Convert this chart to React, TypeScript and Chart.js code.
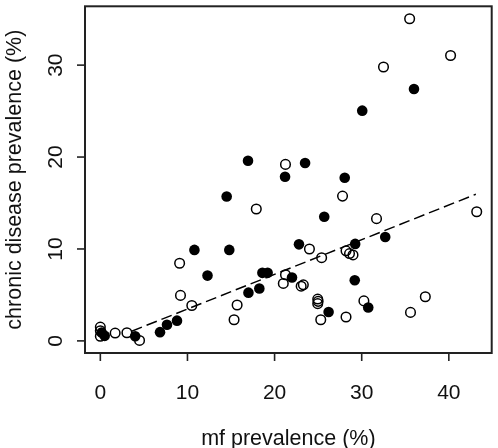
import React, { useEffect, useRef } from "react";
import { Chart, registerables } from "chart.js";

Chart.register(...registerables);

// mf prevalence (%) vs chronic disease prevalence (%)
const openX = [0.0, 0.0, 0.0, 1.7, 3.05, 4.5, 9.1, 9.2, 10.5, 15.7, 15.35, 17.9, 21.25, 21.25, 21.0, 23.05, 23.3, 24.0, 25.4, 28.2, 28.6, 29.0, 24.95, 25.0, 24.95, 25.3, 28.2, 30.25, 27.8, 31.7, 32.5, 35.5, 40.2, 35.6, 37.3, 43.2];
const openY = [1.5, 1.1, 0.5, 0.85, 0.88, 0.05, 8.45, 4.95, 3.85, 3.9, 2.3, 14.35, 19.2, 7.2, 6.25, 5.95, 6.1, 10.0, 9.05, 9.8, 9.5, 9.35, 4.55, 4.3, 4.05, 2.3, 2.6, 4.35, 15.75, 13.3, 29.8, 35.05, 31.05, 3.1, 4.8, 14.05];

const filledX = [0.5, 0.15, 4.0, 6.85, 7.65, 8.8, 10.8, 12.3, 14.5, 14.8, 16.95, 17.0, 18.25, 18.6, 19.2, 21.2, 22.0, 22.8, 23.5, 25.7, 26.2, 28.05, 29.25, 29.2, 30.06, 30.75, 32.7, 36.0];
const filledY = [0.55, 0.9, 0.5, 0.95, 1.75, 2.2, 9.9, 7.1, 15.7, 9.9, 19.6, 5.25, 5.7, 7.4, 7.4, 17.85, 6.9, 10.5, 19.35, 13.5, 3.15, 17.75, 10.55, 6.6, 25.05, 3.64, 11.3, 27.4];

const trendX = [3.6, 43.1];
const trendY = [1.05, 15.95];

const xTicks = [0, 10, 20, 30, 40];
const yTicks = [0, 10, 20, 30];
const xTitle = "mf prevalence (%)";
const yTitle = "chronic disease prevalence (%)";

const FONT = '"Liberation Sans", Arial, Helvetica, sans-serif';

const toPts = (xs: number[], ys: number[]) => xs.map((x, i) => ({ x, y: ys[i] }));

const axesPlugin = {
  id: "rAxes",
  afterDraw(chart: any) {
    const { ctx, chartArea: a, scales } = chart;
    const xs = scales.x;
    const ys = scales.y;
    ctx.save();
    ctx.strokeStyle = "#222";
    ctx.lineWidth = 2;
    ctx.strokeRect(a.left, a.top, a.right - a.left, a.bottom - a.top);

    ctx.lineWidth = 1.6;
    ctx.fillStyle = "#111";
    ctx.font = `21px ${FONT}`;
    // x axis
    const x0 = xs.getPixelForValue(xTicks[0]);
    const x1 = xs.getPixelForValue(xTicks[xTicks.length - 1]);
    ctx.beginPath();
    ctx.moveTo(x0, a.bottom);
    ctx.lineTo(x1, a.bottom);
    ctx.stroke();
    ctx.textAlign = "center";
    ctx.textBaseline = "alphabetic";
    xTicks.forEach((t) => {
      const px = xs.getPixelForValue(t);
      ctx.beginPath();
      ctx.moveTo(px, a.bottom);
      ctx.lineTo(px, a.bottom + 8);
      ctx.stroke();
      ctx.fillText(String(t), px, 399);
    });
    ctx.font = `21.5px ${FONT}`;
    ctx.fillText(xTitle, (a.left + a.right) / 2, 445);

    // y axis
    ctx.font = `21px ${FONT}`;
    yTicks.forEach((t) => {
      const py = ys.getPixelForValue(t);
      ctx.beginPath();
      ctx.moveTo(a.left, py);
      ctx.lineTo(a.left - 8, py);
      ctx.stroke();
      ctx.save();
      ctx.translate(62, py);
      ctx.rotate(-Math.PI / 2);
      ctx.textAlign = "center";
      ctx.fillText(String(t), 0, 0);
      ctx.restore();
    });
    ctx.save();
    ctx.font = `21.5px ${FONT}`;
    ctx.translate(21, (a.top + a.bottom) / 2);
    ctx.rotate(-Math.PI / 2);
    ctx.textAlign = "center";
    ctx.fillText(yTitle, 0, 0);
    ctx.restore();
    ctx.restore();
  },
};

export default function App() {
  const ref = useRef<HTMLCanvasElement | null>(null);
  useEffect(() => {
    if (!ref.current) return;
    const chart = new Chart(ref.current, {
      type: "scatter",
      data: {
        datasets: [
          {
            label: "filled",
            data: toPts(filledX, filledY),
            backgroundColor: "#000",
            borderColor: "#000",
            borderWidth: 0,
            pointRadius: 5.3,
            pointHoverRadius: 5.3,
          },
          {
            label: "open",
            data: toPts(openX, openY),
            backgroundColor: "rgba(0,0,0,0)",
            borderColor: "#000",
            borderWidth: 1.5,
            pointRadius: 4.8,
            pointHoverRadius: 4.8,
          },
          {
            type: "line",
            label: "trend",
            data: toPts(trendX, trendY),
            borderColor: "#000",
            borderWidth: 1.5,
            borderDash: [11, 5],
            pointRadius: 0,
            fill: false,
          } as any,
        ],
      },
      options: {
        responsive: false,
        animation: false,
        layout: { padding: { left: 85, right: 2, top: 1, bottom: 95 } },
        plugins: { legend: { display: false }, tooltip: { enabled: false } },
        scales: {
          x: { type: "linear", min: -1.76, max: 44.92, display: false },
          y: { type: "linear", min: -1.318, max: 36.4, display: false },
        },
      },
      plugins: [axesPlugin],
    });
    return () => chart.destroy();
  }, []);
  return (
    <div style={{ position: "fixed", left: 0, top: 0, width: 498, height: 448, background: "#fff" }}>
      <canvas ref={ref} width={498} height={448} style={{ display: "block" }} />
    </div>
  );
}
